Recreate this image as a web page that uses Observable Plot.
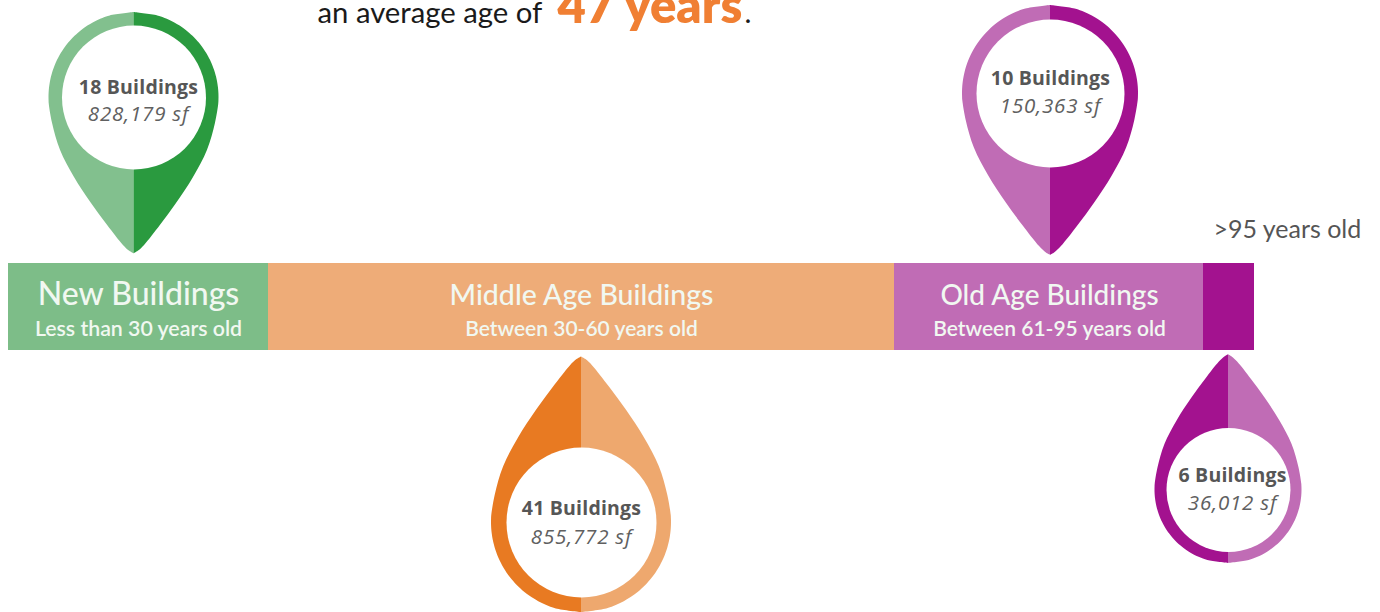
<!DOCTYPE html>
<html>
<head>
<meta charset="utf-8">
<style>html,body{margin:0;padding:0;background:#fff;overflow:hidden}svg{display:block}.tracked text{letter-spacing:.8px}.tracked2 text{letter-spacing:.2px}</style>
<script src="https://cdn.jsdelivr.net/npm/d3@7"></script>
<script src="https://cdn.jsdelivr.net/npm/@observablehq/plot@0.6"></script>
</head>
<body>
<script>
// Age bands along the horizontal strip
const bandNames = ["New Buildings", "Middle Age Buildings", "Old Age Buildings", ""];
const bandSubs = ["Less than 30 years old", "Between 30-60 years old", "Between 61-95 years old", ""];
const bandStart = [8, 268, 894, 1203];
const bandEnd = [268, 894, 1203, 1254];
const bandFill = ["#7dbd88", "#eeac78", "#c06cb5", "#a3128f"];
const bandTitleSize = [32, 28.5, 28, 0];
const bandSubSize = [21.3, 21, 21, 0];
const bandLabelX = [138, 581, 1049, 0];

// Map pins
const pinCounts = ["18 Buildings", "41 Buildings", "10 Buildings", "6 Buildings"];
const pinAreas = ["828,179 sf", "855,772 sf", "150,363 sf", "36,012 sf"];
const pinX = [133.5, 581, 1050, 1228];
const pinY = [97, 522, 93, 489.5];
const pinR = [85, 90, 88, 73.5];
const holeR = [72, 75, 74, 62];
const pinDir = [1, -1, 1, -1];
const pinLeft = ["#82c08e", "#e87a22", "#c06cb5", "#a3128f"];
const pinRight = ["#2a9a3f", "#eea86e", "#a3128f", "#c06cb5"];
const textX = [138, 581, 1050, 1232];
const countY = [93, 514, 84, 481];
const areaY = [120, 543, 112, 509];

// Pin outline: distance from the round centre and half width, in radii
const tailU = [0.306, 0.62, 0.94, 1.247, 1.506, 1.74, 1.81, 1.84];
const tailW = [0.958, 0.865, 0.7, 0.5, 0.31, 0.124, 0.05, 0];

const bands = bandNames.map((name, i) => ({
  name, sub: bandSubs[i], x1: bandStart[i], x2: bandEnd[i], fill: bandFill[i],
  ts: bandTitleSize[i], ss: bandSubSize[i], lx: bandLabelX[i]
}));

const roundU = d3.range(-1, 0.1, 0.04).map(u => [u, Math.sqrt(Math.max(0, 1 - u * u))]);
const profile = roundU.concat(tailU.map((u, i) => [u, tailW[i]]));

const outlines = pinCounts.flatMap((p, i) => [-1, 1].flatMap(side =>
  profile.map(([u, w]) => ({
    key: p + side,
    fill: side < 0 ? pinLeft[i] : pinRight[i],
    cx: pinX[i],
    ox: pinX[i] + side * w * pinR[i],
    y: pinY[i] + pinDir[i] * u * pinR[i]
  }))
));

const holes = pinCounts.map((p, i) => ({x: pinX[i], y: pinY[i], r: holeR[i]}));
const pinText = pinCounts.map((p, i) => ({count: p, area: pinAreas[i], x: textX[i], cy: countY[i], ay: areaY[i]}));
const labelled = bands.filter(d => d.name);

const headline = [{t: "an average age of", x: 317, y: 22, c: "#1a1a1a", s: 29.3, w: 400},
                  {t: "47 years", x: 557, y: 22, c: "#f07f33", s: 49, w: 800},
                  {t: ".", x: 744, y: 22, c: "#1a1a1a", s: 29.3, w: 400}];
const note = [{t: ">95 years old", x: 1213, y: 237}];

const chart = Plot.plot({
  width: 1380, height: 612,
  margin: 0,
  x: {domain: [0, 1380], range: [0, 1380], axis: null},
  y: {domain: [0, 612], range: [0, 612], axis: null},
  color: {type: "identity"},
  r: {type: "identity"},
  style: {background: "#fff", fontFamily: "Lato"},
  marks: [
    Plot.rect(bands, {x1: "x1", x2: "x2", y1: () => 263, y2: () => 350, fill: "fill"}),
    Plot.area(outlines, {x1: "cx", x2: "ox", y1: "y", y2: "y", z: "key", fill: "fill", curve: "catmull-rom"}),
    Plot.dot(holes, {x: "x", y: "y", r: "r", fill: "#fff", stroke: null}),
    Plot.text(labelled, {x: "lx", y: () => 304, text: "name", fontSize: "ts", fill: "#f1f8f1", fontWeight: 500, lineAnchor: "bottom", fontFamily: "Lato"}),
    Plot.text(labelled, {x: "lx", y: () => 335, text: "sub", fontSize: "ss", fill: "#f1f8f1", fontWeight: 600, lineAnchor: "bottom", fontFamily: "Lato"}),
    Plot.text(pinText, {x: "x", y: "cy", text: "count", fontSize: 19.5, fontWeight: 700, fill: "#565656", lineAnchor: "bottom", fontFamily: "Open Sans", className: "tracked2"}),
    Plot.text(pinText, {x: "x", y: "ay", text: "area", fontSize: 20.5, fontStyle: "italic", fill: "#606060", lineAnchor: "bottom", fontFamily: "Open Sans", className: "tracked"}),
    Plot.text(note, {x: "x", y: "y", text: "t", fontSize: 25, fill: "#555", textAnchor: "start", lineAnchor: "bottom", fontFamily: "Lato"}),
    ...headline.map(h => Plot.text([h], {x: "x", y: "y", text: "t", fontSize: h.s, fontWeight: h.w, fill: h.c, textAnchor: "start", lineAnchor: "bottom", fontFamily: "Lato"}))
  ]
});
document.body.appendChild(chart);
</script>
</body>
</html>
